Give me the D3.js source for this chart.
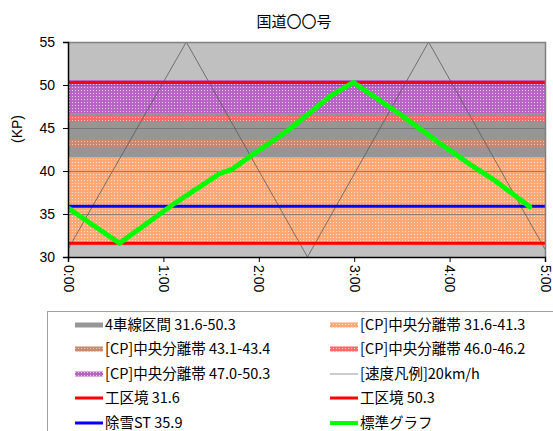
<!DOCTYPE html>
<html>
<head>
<meta charset="utf-8">
<script src="https://cdn.jsdelivr.net/npm/d3@7"></script>
<style>
  html, body { margin: 0; padding: 0; background: #fff; }
  svg { display: block; font-family: "Noto Sans CJK JP", "Noto Sans", sans-serif; }
</style>
</head>
<body>
<svg id="chart" width="553" height="431"></svg>
<script>
// Time axis (hours) and KP axis
const xTickHours = [0, 1, 2, 3, 4, 5];
const yTicks = [30, 35, 40, 45, 50, 55];

// 4-lane section
const laneRange = [31.6, 50.3];

// [CP] median strip sections
const medianLow  = [31.6, 43.1, 46.0, 47.0];
const medianHigh = [41.3, 43.4, 46.2, 50.3];

// 20 km/h speed guide
const speedHours = [0, 1.24, 2.51, 3.78, 5];
const speedKP    = [30.9, 55, 30, 55, 30.9];

// Section boundaries and snow station
const boundaryKP = [31.6, 50.3];
const snowKP = 35.9;

// Standard run
const stdHours = [0, 0.54, 0.8, 1.1, 1.59, 1.72, 1.91, 2.29, 2.76, 2.99, 3.48, 3.9, 4.25, 4.46, 4.84];
const stdKP    = [35.7, 31.6, 33.7, 36.1, 39.7, 40.2, 41.7, 44.6, 48.8, 50.3, 46.6, 43.2, 40.5, 39.0, 35.85];

const svg = d3.select("#chart");
const L = 68, R = 545, T = 42, B = 257;
const x = d3.scaleLinear().domain([0, 5]).range([L, R]);
const y = d3.scaleLinear().domain([30, 55]).range([B, T]);

// median strip fills: solid base plus a grid of light dots
const stripStyles = [
  { id: "pOrange", base: "rgb(255,168,118)", dot: "rgb(255,226,204)" },
  { id: "pBrown",  base: "rgb(198,138,110)", dot: "rgb(234,202,178)" },
  { id: "pPink",   base: "rgb(255,104,104)", dot: "rgb(255,200,200)" },
  { id: "pPurple", base: "rgb(184,100,196)", dot: "rgb(236,204,240)" }
];
const defs = svg.append("defs");
stripStyles.forEach(p => {
  const pat = defs.append("pattern").attr("id", p.id)
    .attr("patternUnits", "userSpaceOnUse").attr("width", 3).attr("height", 3);
  pat.append("rect").attr("width", 3).attr("height", 3).attr("fill", p.base)
    .attr("shape-rendering", "crispEdges");
  pat.append("rect").attr("width", 1).attr("height", 1).attr("fill", p.dot)
    .attr("shape-rendering", "crispEdges");
});
defs.append("clipPath").attr("id", "plotClip")
  .append("rect").attr("x", L).attr("y", T).attr("width", R - L).attr("height", B - T);

const plot = svg.append("g").attr("clip-path", "url(#plotClip)");

// plot background
plot.append("rect").attr("x", L).attr("y", T).attr("width", R - L).attr("height", B - T)
  .attr("fill", "#c0c0c0");

// 4-lane section
const pad = 2.5;
plot.append("rect").attr("x", L).attr("width", R - L)
  .attr("y", Math.round(y(laneRange[1]) - pad))
  .attr("height", Math.round(y(laneRange[0]) - y(laneRange[1]) + 2 * pad))
  .attr("fill", "#969696");

// median strips
medianLow.forEach((lo, i) => {
  const hi = medianHigh[i];
  const top = Math.round(y(hi) - pad), bot = Math.round(y(lo) + pad);
  plot.append("rect").attr("x", L).attr("width", R - L)
    .attr("y", top).attr("height", bot - top)
    .attr("fill", stripStyles[i].base);
  plot.append("rect").attr("x", L).attr("width", R - L)
    .attr("y", top).attr("height", bot - top)
    .attr("fill", `url(#${stripStyles[i].id})`)
    .attr("shape-rendering", "crispEdges");
});

// horizontal gridlines
plot.selectAll("line.grid").data(yTicks.slice(1, -1)).join("line")
  .attr("class", "grid")
  .attr("x1", L).attr("x2", R)
  .attr("y1", d => Math.round(y(d)) + 0.5).attr("y2", d => Math.round(y(d)) + 0.5)
  .attr("stroke", "#6e6e6e").attr("stroke-opacity", 0.75).attr("stroke-width", 1);

const lineGen = d3.line().x(d => x(d[0])).y(d => y(d[1]));

// speed guide
plot.append("path")
  .attr("d", lineGen(speedHours.map((h, i) => [h, speedKP[i]])))
  .attr("fill", "none").attr("stroke", "#5a5a5a").attr("stroke-width", 0.8);

// boundaries
boundaryKP.forEach(k => {
  plot.append("line").attr("x1", L).attr("x2", R).attr("y1", y(k)).attr("y2", y(k))
    .attr("stroke", "#ff0000").attr("stroke-width", 3);
});
// snow station
plot.append("line").attr("x1", L).attr("x2", R).attr("y1", y(snowKP)).attr("y2", y(snowKP))
  .attr("stroke", "#0000ff").attr("stroke-width", 3);

// standard run
plot.append("path")
  .attr("d", lineGen(stdHours.map((h, i) => [h, stdKP[i]])))
  .attr("fill", "none").attr("stroke", "#00ff00").attr("stroke-width", 5)
  .attr("stroke-linejoin", "round").attr("stroke-linecap", "round");

// plot border (top/right)
svg.append("path")
  .attr("d", `M${L},${T + 0.5}H${R + 0.5}V${B}`)
  .attr("fill", "none").attr("stroke", "#808080").attr("stroke-width", 1.5);

// axes
const yAxis = svg.append("g").attr("transform", `translate(${L},0)`)
  .call(d3.axisLeft(y).tickValues(yTicks).tickSize(5).tickPadding(8));
const xAxis = svg.append("g").attr("transform", `translate(0,${B})`)
  .call(d3.axisBottom(x).tickValues(xTickHours).tickSize(5)
    .tickFormat(h => `${h}:00`));

[yAxis, xAxis].forEach(a => {
  a.select(".domain").attr("stroke", "#000").attr("stroke-width", 1.5);
  a.selectAll(".tick line").attr("stroke", "#000");
  a.selectAll("text").attr("fill", "#000").style("font-size", "14px")
    .style("font-family", "'Liberation Sans', Arial, sans-serif");
});
yAxis.selectAll("text").attr("dy", "0.35em");
xAxis.selectAll("text")
  .attr("transform", "rotate(90)")
  .attr("x", 8).attr("y", 0).attr("dy", "0.35em")
  .attr("text-anchor", "start");

// title
svg.append("text").attr("x", 294).attr("y", 27).attr("text-anchor", "middle")
  .style("font-size", "15px").attr("fill", "#000").text("国道〇〇号");

// y label
svg.append("text").attr("transform", "translate(22,129) rotate(-90)")
  .attr("text-anchor", "middle").style("font-size", "14px")
  .style("font-family", "'Liberation Sans', Arial, sans-serif")
  .attr("fill", "#000").text("(KP)");

// legend
const legendItems = [
  { label: "4車線区間 31.6-50.3", stroke: "#969696", w: 5 },
  { label: "[CP]中央分離帯 31.6-41.3", stroke: "url(#pOrange)", w: 5 },
  { label: "[CP]中央分離帯 43.1-43.4", stroke: "url(#pBrown)", w: 5 },
  { label: "[CP]中央分離帯 46.0-46.2", stroke: "url(#pPink)", w: 5 },
  { label: "[CP]中央分離帯 47.0-50.3", stroke: "url(#pPurple)", w: 5 },
  { label: "[速度凡例]20km/h", stroke: "#9a9a9a", w: 1 },
  { label: "工区境 31.6", stroke: "#ff0000", w: 3 },
  { label: "工区境 50.3", stroke: "#ff0000", w: 3 },
  { label: "除雪ST 35.9", stroke: "#0000ff", w: 3 },
  { label: "標準グラフ", stroke: "#00ff00", w: 4 }
];
svg.append("rect").attr("x", 47.5).attr("y", 311.5).attr("width", 540).attr("height", 140)
  .attr("fill", "#fff").attr("stroke", "#a0a0a0").attr("stroke-width", 1);
const colX = [75, 330];
const rowY0 = 324.5, rowStep = 24.5;
const lg = svg.append("g");
legendItems.forEach((it, i) => {
  const cx = colX[i % 2], cy = Math.round(rowY0 + Math.floor(i / 2) * rowStep);
  lg.append("rect").attr("x", cx).attr("y", cy - it.w / 2).attr("width", 28).attr("height", it.w)
    .attr("fill", it.stroke);
  lg.append("text").attr("x", cx + 30).attr("y", cy).attr("dy", "0.36em")
    .style("font-size", "14.5px").attr("fill", "#000").text(it.label);
});
</script>
</body>
</html>
